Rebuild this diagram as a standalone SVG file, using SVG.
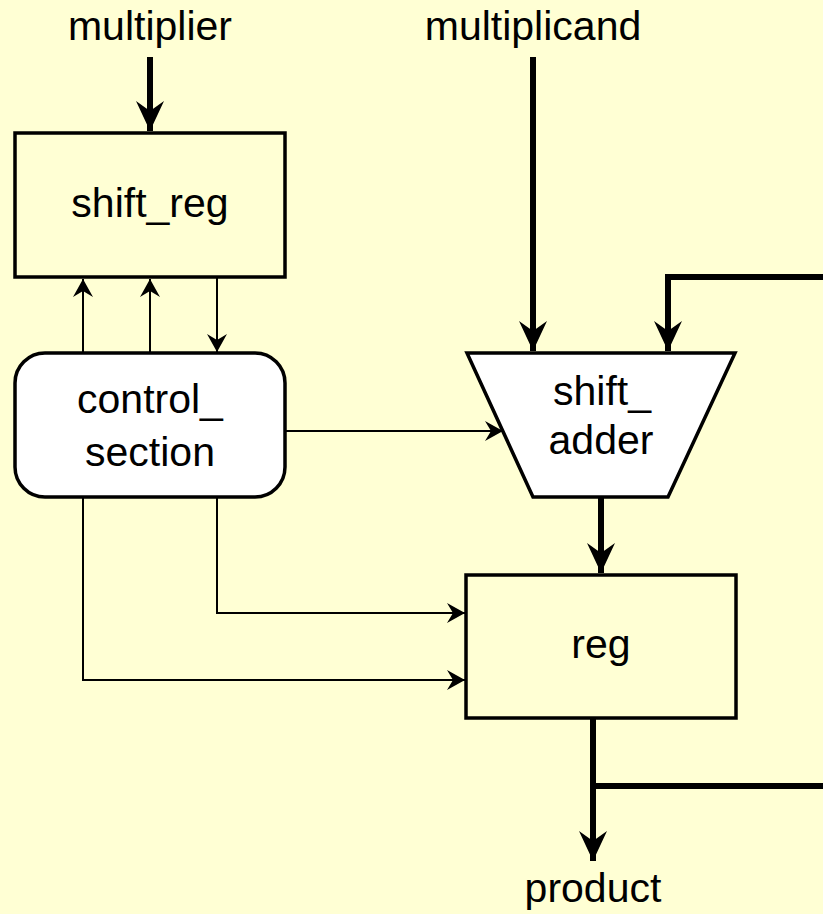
<svg xmlns="http://www.w3.org/2000/svg" width="823" height="914" viewBox="0 0 823 914">
  <style>
    .lbl { font-family: "Liberation Sans", Arial, sans-serif; font-size: 41px; fill: #000; text-anchor: middle; }
    .box { fill: #FFFFD4; stroke: #000; stroke-width: 3.5; }
    .wbox { fill: #FFFFFF; stroke: #000; stroke-width: 3.5; }
    .bus { fill: none; stroke: #000; stroke-width: 6; }
    .sig { fill: none; stroke: #000; stroke-width: 2; }
  </style>
  <defs>
    <marker id="bigArrow" markerUnits="userSpaceOnUse" viewBox="-32 -16 34 32" refX="0" refY="0" markerWidth="34" markerHeight="32" orient="auto">
      <path d="M0,0 L-30,-14 L-20,0 L-30,14 Z" fill="#000"/>
    </marker>
    <marker id="smallArrow" markerUnits="userSpaceOnUse" viewBox="-20 -11 22 22" refX="0" refY="0" markerWidth="22" markerHeight="22" orient="auto">
      <path d="M0,0 L-18,-10 L-12,0 L-18,10 Z" fill="#000"/>
    </marker>
  </defs>

  <rect x="0" y="0" width="823" height="914" fill="#FFFFD4"/>

  <g id="connectors">
    <!-- data buses -->
    <path class="bus" d="M150,57 L150,131" marker-end="url(#bigArrow)"/>
    <path class="bus" d="M533,57 L533,351" marker-end="url(#bigArrow)"/>
    <path class="bus" d="M823,277 L668,277 L668,351" marker-end="url(#bigArrow)"/>
    <path class="bus" d="M601,497 L601,573" marker-end="url(#bigArrow)"/>
    <path class="bus" d="M593,718 L593,861" marker-end="url(#bigArrow)"/>
    <path class="bus" d="M593,786 L823,786"/>
    <!-- control signals -->
    <path class="sig" d="M83,353 L83,279" marker-end="url(#smallArrow)"/>
    <path class="sig" d="M150,353 L150,279" marker-end="url(#smallArrow)"/>
    <path class="sig" d="M217,277 L217,352" marker-end="url(#smallArrow)"/>
    <path class="sig" d="M285,431 L503,431" marker-end="url(#smallArrow)"/>
    <path class="sig" d="M217,497 L217,613 L465,613" marker-end="url(#smallArrow)"/>
    <path class="sig" d="M83,497 L83,680 L465,680" marker-end="url(#smallArrow)"/>
  </g>

  <g id="label-multiplier">
    <text class="lbl" x="150" y="40">multiplier</text>
  </g>
  <g id="label-multiplicand">
    <text class="lbl" x="533" y="40">multiplicand</text>
  </g>

  <g id="shift_reg">
    <rect class="box" x="15" y="133" width="270" height="144"/>
    <text class="lbl" x="150" y="217">shift_reg</text>
  </g>

  <g id="control_section">
    <rect class="wbox" x="15" y="353" width="270" height="144" rx="30" ry="30"/>
    <text class="lbl" x="150" y="413">control_</text>
    <text class="lbl" x="150" y="466">section</text>
  </g>

  <g id="shift_adder">
    <polygon class="wbox" points="467,353 735,353 668,497 533,497"/>
    <text class="lbl" x="602" y="405">shift_</text>
    <text class="lbl" x="601" y="454">adder</text>
  </g>

  <g id="reg">
    <rect class="box" x="466" y="575" width="270" height="143"/>
    <text class="lbl" x="601" y="658">reg</text>
  </g>

  <g id="label-product">
    <text class="lbl" x="593" y="902">product</text>
  </g>
</svg>
